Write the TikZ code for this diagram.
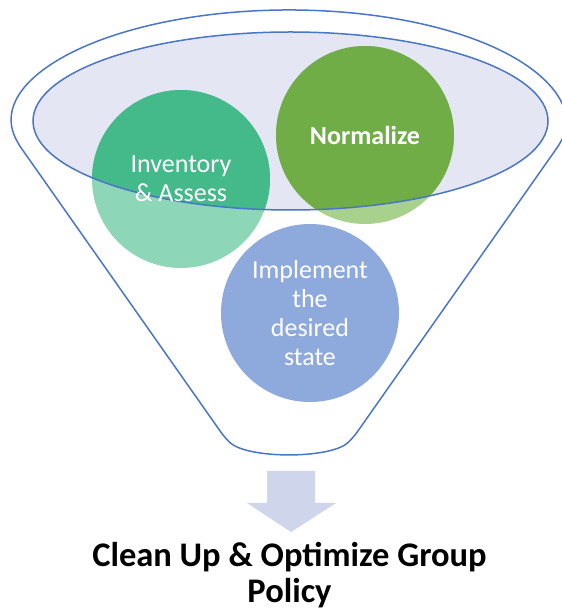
\documentclass[tikz,border=0pt]{standalone}
\usepackage{fontspec}
\setmainfont{Carlito}
\definecolor{funnelblue}{HTML}{4A76C6}
\definecolor{lav}{HTML}{E4E7F3}
\definecolor{invdark}{HTML}{44BA8A}
\definecolor{invlight}{HTML}{8ED6B8}
\definecolor{normdark}{HTML}{70AD47}
\definecolor{normlight}{HTML}{A9D18E}
\definecolor{impl}{HTML}{8EA9DB}
\definecolor{arrowlav}{HTML}{CFD5EA}
\begin{document}
\begin{tikzpicture}[x=1pt,y=1pt,
  outline/.style={draw=funnelblue, line width=1.5pt},
  disc/.style={circle, minimum size=178pt, inner sep=0pt},
  disclabel/.style={text=white, align=center, inner sep=0pt, font=\fontsize{26}{29}\selectfont},
  blockarrow/.style={fill=arrowlav}]
\useasboundingbox (0,0) rectangle (562,611);
\fill[white] (0,0) rectangle (562,611);
% funnel outline
\draw[outline, line join=round, rounded corners=7pt] (17,469) arc[start angle=189.7, end angle=-9.7, x radius=276, y radius=113]
  -- (353,173) .. controls (330,152) and (248,152) .. (225,173) -- cycle;
% inner ellipse fill
\fill[lav] (290.5,490) ellipse[x radius=257.5, y radius=89];
% discs (lighter part outside the mouth)
\node[disc, fill=invlight] (inv) at (181,432) {};
\node[disc, fill=normlight] (norm) at (365,476) {};
\node[disc, fill=impl] (impl) at (310,298) {};
\begin{scope}
  \clip (290.5,490) ellipse[x radius=257.5, y radius=89];
  \fill[invdark] (inv.center) circle[radius=89];
  \fill[normdark] (norm.center) circle[radius=89];
\end{scope}
\draw[outline] (290.5,490) ellipse[x radius=257.5, y radius=89];
% labels
\node[disclabel] (invtext) at (inv.center) {Inventory\\\& Assess};
\node[disclabel, font=\bfseries\fontsize{26}{29}\selectfont] (normtext) at (norm.center) {Normalize};
\node[disclabel] (impltext) at (impl.center) {Implement\\the\\desired\\state};
% down arrow
\fill[blockarrow] (267,140) -- (315,140) -- (315,108) -- (336,108) -- (291,79) -- (247,108) -- (267,108) -- cycle;
% title
\node[align=center, inner sep=0pt, anchor=base, font=\bfseries\fontsize{34.5}{36}\selectfont] (title) at (289.5,8.5) {Clean Up \& Optimize Group\\Policy};
\end{tikzpicture}
\end{document}
